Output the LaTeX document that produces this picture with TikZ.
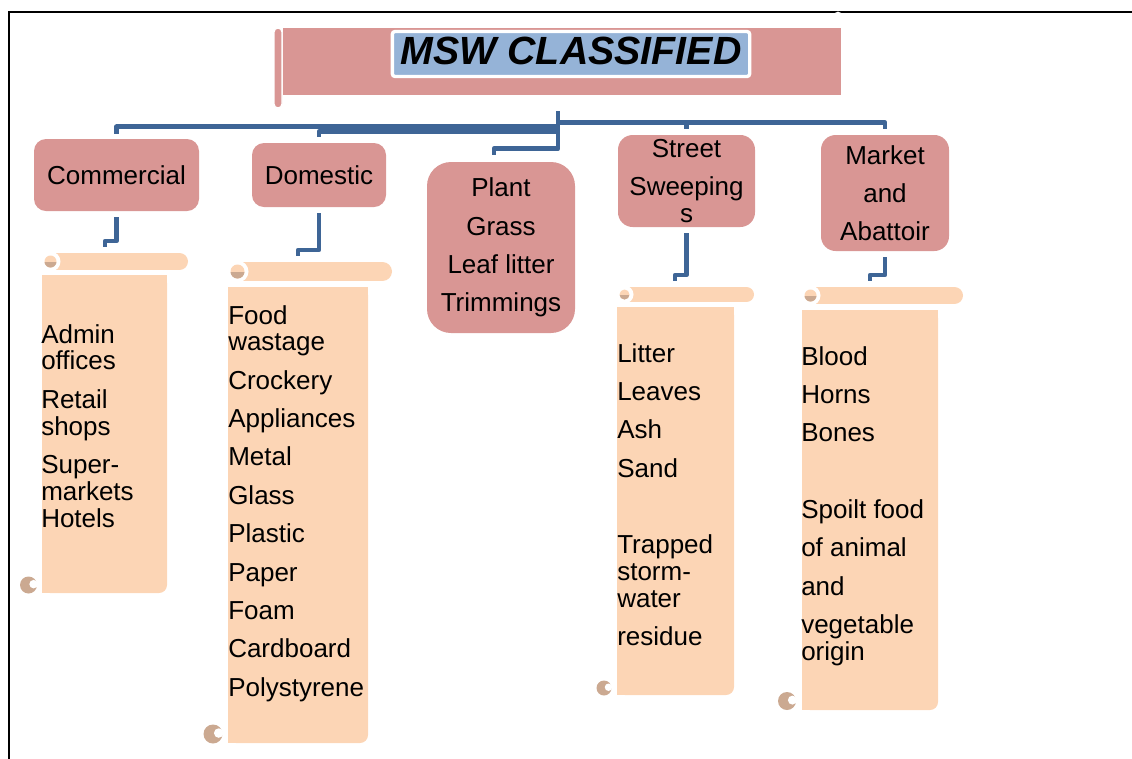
\documentclass[tikz,border=0pt]{standalone}
\usepackage{fontspec}
\setmainfont{Liberation Sans}
\usetikzlibrary{calc}

\definecolor{boxpink}{HTML}{D99694}
\definecolor{paper}{HTML}{FCD5B5}
\definecolor{curlbrown}{HTML}{CBA991}
\definecolor{linkblue}{HTML}{3E6596}
\definecolor{labelblue}{HTML}{95B3D7}

\newcommand\listfont{\fontsize{19.5pt}{20pt}\selectfont}
\newcommand\pgap{\\[8.7pt]}

% scroll pieces (coordinates in px, y downwards)
\newcommand\scrollbody[4]{% xL, yTop, xR, yBottom
  \fill[paper, rounded corners=6pt] (#1,#2) rectangle (#3,#4);
  \fill[paper] (#1,#2) rectangle (#3,#4-12);
  \fill[paper] (#1,#2) rectangle (#3-12,#4);
}
\newcommand\scrollroll[4]{% xL, yTop, yBottom, xR
  \pgfmathsetmacro\rollhalf{(#3-#2)/2}
  \pgfmathsetmacro\rollmid{(#3+#2)/2}
  \pgfmathsetmacro\rollw{0.75*(#3-#2)}
  \draw[paper, line width=\rollw pt, line cap=round] (#1+\rollhalf,\rollmid) -- (#4-\rollhalf,\rollmid);
  \fill[white] (#1+\rollhalf,\rollmid) circle[radius=\rollhalf+1.5];
  \fill[paper] (#1+\rollhalf,\rollmid) circle[radius=\rollhalf-2.5];
  \begin{scope}
    \clip (#1+\rollhalf,\rollmid) circle[radius=\rollhalf-2.5];
    \fill[curlbrown] (#1-2,\rollmid) rectangle (#1+2*\rollhalf,#3+2);
  \end{scope}
}
\newcommand\bottomcurl[3]{% cx, cy, r
  \fill[curlbrown] (#1,#2) circle[radius=#3];
  \fill[white] (#1+0.6*#3,#2-0.1*#3) circle[radius=0.5*#3];
}

\tikzset{
  cat/.style={fill=boxpink, inner sep=0pt, align=center, font=\listfont},
  conn/.style={draw=linkblue, line width=3.4pt, line join=round},
  itemlist/.style={anchor=base west, inner sep=0pt, font=\listfont},
}

\begin{document}
\begin{tikzpicture}[x=0.75pt,y=-0.75pt]
\useasboundingbox (0,0) rectangle (1132,758);

% frame
\draw[black, line width=1.5pt] (1140,12) -- (9,12) -- (9,766);

% title banner
\draw[fill=boxpink, draw=white, line width=1pt, rounded corners=3pt] (274,28) rectangle (282,108);
\node[fill=boxpink, inner sep=0pt, minimum width=418.5pt, minimum height=50.25pt] (titlebar) at (562,61.5) {};
\draw[white, line width=1.2pt] (834.5,16) arc[start angle=180, end angle=360, radius=3.5];
\node[fill=labelblue, draw=white, line width=2.5pt, rounded corners=2pt, inner sep=0pt,
      minimum width=268pt, minimum height=33.75pt, text depth=4.5pt,
      font=\fontsize{29.5pt}{30pt}\selectfont\bfseries\itshape] (title) at (571,54) {MSW CLASSIFIED};

% category boxes
\node[cat, rounded corners=9pt, minimum width=123.75pt, minimum height=54pt] (com) at (116.5,175) {Commercial};
\node[cat, rounded corners=9pt, minimum width=100.5pt, minimum height=48pt] (dom) at (319,175) {Domestic};
\node[cat, rounded corners=18pt, minimum width=111pt, minimum height=128.25pt] (pla) at (501,247.5)
  {Plant\pgap Grass\pgap Leaf litter\pgap Trimmings};
\node[cat, rounded corners=11pt, minimum width=102.75pt, minimum height=69pt] (str) at (686.5,181)
  {Street\pgap Sweeping\\s};
\node[cat, rounded corners=11pt, minimum width=96pt, minimum height=87pt] (mkt) at (885,193)
  {Market\pgap and\pgap Abattoir};

% links from the title to the categories
\coordinate (hub) at (558,111);
\draw[conn] (hub) |- ([yshift=9pt]com.north) -- ([yshift=3.75pt]com.north);
\draw[conn] (hub) |- ([yshift=8.25pt]dom.north) -- ([yshift=4.5pt]dom.north);
\draw[conn] (hub) |- ([xshift=-5.25pt,yshift=9.75pt]pla.north) -- ([xshift=-5.25pt,yshift=5.25pt]pla.north);
\draw[conn] (hub) |- ([yshift=9pt]str.north) -- ([yshift=4.5pt]str.north);
\draw[conn] (hub) |- ([yshift=9pt]mkt.north) -- ([yshift=4.5pt]mkt.north);

% scrolls
\scrollbody{42}{275}{167}{593}
\scrollroll{42}{253}{270}{188}
\bottomcurl{28.5}{585}{8.5}

\scrollbody{228}{287}{368}{743}
\scrollroll{228}{262}{281}{392}
\bottomcurl{213}{734}{9.5}

\scrollbody{617}{307}{734}{695}
\scrollroll{617}{287}{302}{754}
\bottomcurl{604}{688}{7.5}

\scrollbody{802}{310}{938}{710}
\scrollroll{802}{287}{304}{963}
\bottomcurl{787}{701}{9}

% links from the categories to their scrolls
\coordinate (comin) at (105,247);
\coordinate (domin) at (298,256);
\coordinate (strin) at (675,281);
\coordinate (mktin) at (870,281);
\draw[conn] ([yshift=-4.5pt]com.south) |- ([yshift=4.5pt]comin) -- (comin);
\draw[conn] ([yshift=-4.5pt]dom.south) |- ([yshift=4.5pt]domin) -- (domin);
\draw[conn] ([yshift=-4.5pt]str.south) |- ([yshift=4.5pt]strin) -- (strin);
\draw[conn] ([yshift=-4.5pt]mkt.south) |- ([yshift=4.5pt]mktin) -- (mktin);

% scroll contents
\node[itemlist] (comlist) at (41,343) {\begin{tabular}[t]{@{}l@{}}
  Admin\\offices\pgap Retail\\shops\pgap Super-\\markets\\Hotels\end{tabular}};
\node[itemlist] (domlist) at (228,324) {\begin{tabular}[t]{@{}l@{}}
  Food\\wastage\pgap Crockery\pgap Appliances\pgap Metal\pgap Glass\pgap Plastic\pgap
  Paper\pgap Foam\pgap Cardboard\pgap Polystyrene\end{tabular}};
\node[itemlist] (strlist) at (617,362) {\begin{tabular}[t]{@{}l@{}}
  Litter\pgap Leaves\pgap Ash\pgap Sand\pgap \pgap Trapped\\storm-\\water\pgap residue\end{tabular}};
\node[itemlist] (mktlist) at (801,365) {\begin{tabular}[t]{@{}l@{}}
  Blood\pgap Horns\pgap Bones\pgap \pgap Spoilt food\pgap of animal\pgap and\pgap
  vegetable\\origin\end{tabular}};
\end{tikzpicture}
\end{document}
